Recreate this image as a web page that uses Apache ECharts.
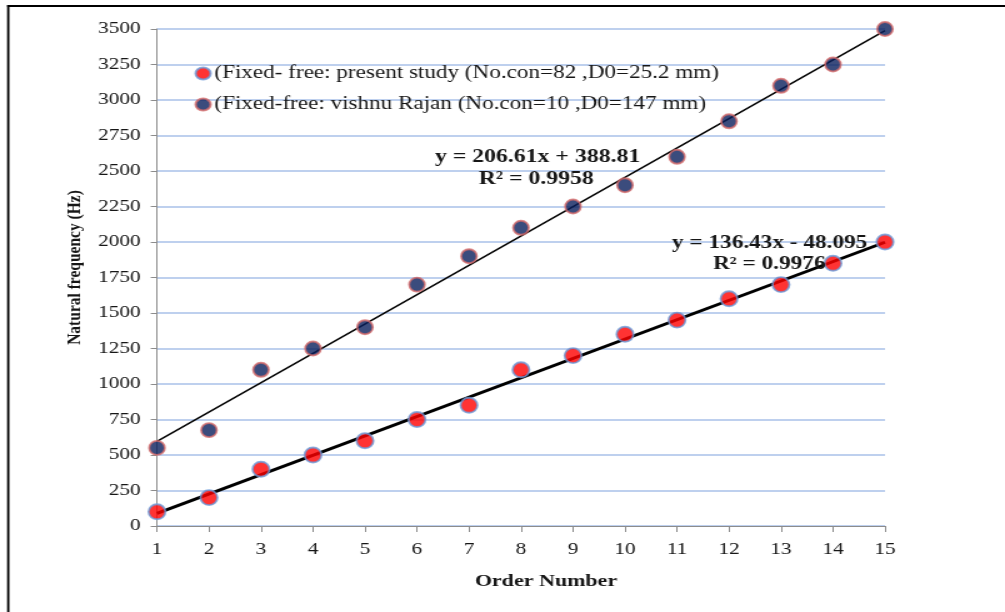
<!DOCTYPE html>
<html><head><meta charset="utf-8">
<script src="https://cdn.jsdelivr.net/npm/echarts@6/dist/echarts.min.js"></script>
<style>
html,body{margin:0;padding:0;background:#fff;overflow:hidden}
#wrap{width:1005px;height:612px;overflow:hidden;position:relative}
#c{width:804px;height:612px;transform:scaleX(1.25);transform-origin:0 0;position:absolute;left:0;top:0}
</style>
</head><body><div id="wrap"><div id="c"></div></div>
<script>
const orders = [1,2,3,4,5,6,7,8,9,10,11,12,13,14,15];
const presentStudy = [100,200,400,500,600,750,850,1100,1200,1350,1450,1600,1700,1850,2000];
const vishnuRajan = [550,675,1100,1250,1400,1700,1900,2100,2250,2400,2600,2850,3100,3250,3500];
const yTicks = [0,250,500,750,1000,1250,1500,1750,2000,2250,2500,2750,3000,3250,3500];
const seriesNames = ['(Fixed- free: present study (No.con=82 ,D0=25.2 mm)','(Fixed-free: vishnu Rajan (No.con=10 ,D0=147 mm)'];
const trendLabels = [['y = 136.43x - 48.095','R² = 0.9976'],['y = 206.61x + 388.81','R² = 0.9958']];

// least-squares trendline through each series (as the chart's linear trendlines)
function fit(xs, ys){
  const n=xs.length; let sx=0,sy=0,sxx=0,sxy=0;
  for(let i=0;i<n;i++){sx+=xs[i];sy+=ys[i];sxx+=xs[i]*xs[i];sxy+=xs[i]*ys[i];}
  const m=(n*sxy-sx*sy)/(n*sxx-sx*sx); const b=(sy-m*sx)/n;
  const x0=xs[0], x1=xs[n-1];
  return [[x0,m*x0+b],[x1,m*x1+b]];
}
const pts = a => orders.map((x,i)=>[x,a[i]]);
const FONT='"Liberation Serif","Times New Roman",serif';
const TXT='#161616';
const chart = echarts.init(document.getElementById('c'));
chart.setOption({
  animation:false,
  backgroundColor:'#fff',
  grid:{left:125.6,right:96,top:29,bottom:86},
  legend:{
    data:seriesNames, orient:'vertical', left:150.5, top:59, itemGap:12,
    itemWidth:12, itemHeight:12, icon:'circle',
    textStyle:{fontFamily:FONT,fontSize:18.5,lineHeight:19,color:TXT,padding:[0,0,0,-2]}
  },
  xAxis:{type:'value',min:orders[0],max:orders[orders.length-1],interval:1,name:'Order Number',nameLocation:'middle',nameGap:46,
    nameTextStyle:{fontFamily:FONT,fontSize:17.6,fontWeight:'bold',color:TXT,padding:[0,0,0,40]},
    axisLine:{lineStyle:{color:'#8c8c8c',width:1}},axisTick:{show:true,length:6,lineStyle:{color:'#8c8c8c'}},
    axisLabel:{fontFamily:FONT,fontSize:17,color:TXT,margin:15},splitLine:{show:false}},
  yAxis:{type:'value',min:yTicks[0],max:yTicks[yTicks.length-1],interval:yTicks[1]-yTicks[0],name:'Natural frequency (Hz)',
    nameLocation:'middle',nameGap:56,nameRotate:90,
    nameTextStyle:{fontFamily:FONT,fontSize:15.5,fontWeight:'bold',color:TXT,padding:[0,0,0,20]},
    axisLine:{show:true,lineStyle:{color:'#8c8c8c'}},axisTick:{show:true,length:5,lineStyle:{color:'#8c8c8c'}},
    axisLabel:{fontFamily:FONT,fontSize:17,color:TXT,margin:13,formatter:v=>String(v)},
    splitLine:{lineStyle:{color:'#a9c1e8',width:1.6}}},
  series:[
    {name:'trend1',type:'line',data:fit(orders,presentStudy),symbol:'none',silent:true,z:3,
      lineStyle:{color:'#000',width:3}},
    {name:'trend2',type:'line',data:fit(orders,vishnuRajan),symbol:'none',silent:true,z:3,
      lineStyle:{color:'#000',width:1.5}},
    {name:seriesNames[0],type:'scatter',data:pts(presentStudy),symbol:'circle',symbolSize:[13.5,15],z:4,
      itemStyle:{color:'#ff0000',borderColor:'#6b9ad8',borderWidth:1.8}},
    {name:seriesNames[1],type:'scatter',data:pts(vishnuRajan),symbol:'circle',symbolSize:[12.5,14],z:4,
      itemStyle:{color:'#0a1f5c',borderColor:'#d46a6a',borderWidth:1.8}}
  ],
  graphic:[
    {type:'line',z:100,shape:{x1:6.6,y1:5,x2:6.6,y2:612},style:{stroke:'#000',lineWidth:1.8}},
    {type:'line',z:100,shape:{x1:5.8,y1:6,x2:804,y2:6},style:{stroke:'#000',lineWidth:2}},
    {type:'text',z:100,x:348,y:157,style:{text:trendLabels[1][0],font:'bold 19px '+FONT,fill:TXT,textVerticalAlign:'middle'}},
    {type:'text',z:100,x:383,y:179,style:{text:trendLabels[1][1],font:'bold 19px '+FONT,fill:TXT,textVerticalAlign:'middle'}},
    {type:'text',z:100,x:537.6,y:243,style:{text:trendLabels[0][0],font:'bold 18.6px '+FONT,fill:TXT,textVerticalAlign:'middle'}},
    {type:'text',z:100,x:570.4,y:264,style:{text:trendLabels[0][1],font:'bold 18.6px '+FONT,fill:TXT,textVerticalAlign:'middle'}}
  ]
});
</script></body></html>
